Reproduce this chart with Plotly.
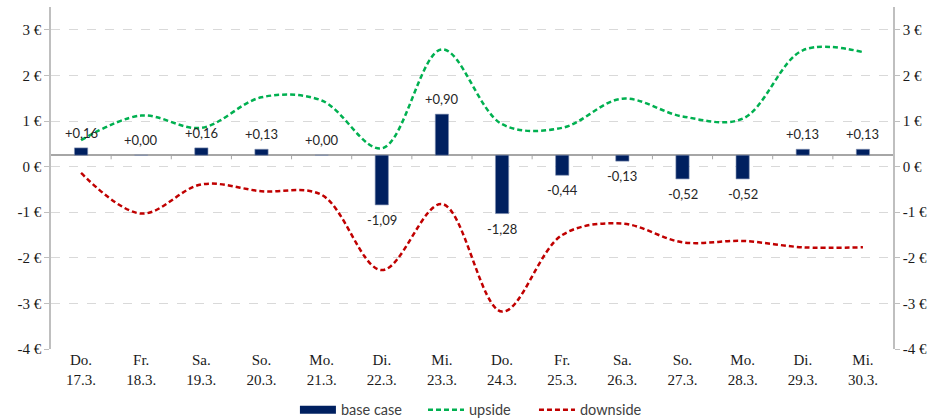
import plotly.graph_objects as go

# Category labels (weekday + date)
days = ["Do.", "Fr.", "Sa.", "So.", "Mo.", "Di.", "Mi.", "Do.", "Fr.", "Sa.", "So.", "Mo.", "Di.", "Mi."]
dates = ["17.3.", "18.3.", "19.3.", "20.3.", "21.3.", "22.3.", "23.3.", "24.3.", "25.3.", "26.3.", "27.3.", "28.3.", "29.3.", "30.3."]
categories = [f"{d}<br>{t}" for d, t in zip(days, dates)]

# Series values in EUR
base_case = [0.16, 0.00, 0.16, 0.13, 0.00, -1.09, 0.90, -1.28, -0.44, -0.13, -0.52, -0.52, 0.13, 0.13]
upside = [0.58, 1.12, 0.85, 1.52, 1.45, 0.40, 2.57, 0.93, 0.85, 1.49, 1.10, 1.05, 2.55, 2.51]
downside = [-0.14, -1.03, -0.39, -0.54, -0.62, -2.27, -0.82, -3.18, -1.50, -1.25, -1.66, -1.63, -1.77, -1.77]

# Axis ticks
tick_vals = [3, 2, 1, 0, -1, -2, -3, -4]
tick_text = [f"{v} €" for v in tick_vals]

NAVY = "#002060"
GREEN = "#00B050"
RED = "#C00000"
AXIS_GRAY = "#A6A6A6"
SERIF = "Liberation Serif"
SANS = "Lato"

fig = go.Figure()

fig.add_trace(go.Bar(
    x=categories, y=base_case, yaxis="y3", name="base case",
    marker=dict(color=NAVY, line=dict(color="#7f8fb0", width=0.6)),
    width=0.22, showlegend=False,
))
# legend entry with a wide swatch for the bars
fig.add_trace(go.Scatter(
    x=[None], y=[None], mode="lines", name="base case", legend="legend",
    line=dict(color=NAVY, width=8),
))
fig.add_trace(go.Scatter(
    x=categories, y=upside, mode="lines", name="upside", legend="legend2",
    line=dict(color=GREEN, width=2.5, dash="5px,3px", shape="spline", smoothing=1.0),
))
fig.add_trace(go.Scatter(
    x=categories, y=downside, mode="lines", name="downside", legend="legend3",
    line=dict(color=RED, width=2.5, dash="5px,3px", shape="spline", smoothing=1.0),
))

# value labels above / below the bars
annotations = []
for c, v in zip(categories, base_case):
    txt = f"{v:+.2f}".replace(".", ",").replace("-0,00", "+0,00")
    annotations.append(dict(
        x=c, y=v, xref="x", yref="y3", text=txt, showarrow=False,
        yshift=15 if v >= 0 else -15,
        font=dict(family=SANS, size=13, color="#262626"),
    ))

# small tick marks between categories on the bar baseline
shapes = []
for i in range(len(categories) - 1):
    shapes.append(dict(
        type="line", xref="x", yref="y3", x0=i + 0.5, x1=i + 0.5, y0=0, y1=-0.09,
        line=dict(color=AXIS_GRAY, width=1),
    ))

yaxis_common = dict(
    range=[-4, 3.5], tickvals=tick_vals, ticktext=tick_text,
    tickfont=dict(family=SERIF, size=15, color="#1a1a1a"),
    showline=True, linecolor="#BFBFBF", linewidth=1.5,
    ticks="outside", ticklen=5, tickcolor="#BFBFBF",
    zeroline=False, fixedrange=True,
)

legend_common = dict(
    orientation="h", y=-0.178, yanchor="middle", xanchor="left",
    font=dict(family=SANS, size=14.5, color="#404040"),
    itemwidth=36, bgcolor="rgba(0,0,0,0)",
)

fig.update_layout(
    width=934, height=418,
    margin=dict(l=51, r=41, t=7, b=69, autoexpand=False),
    plot_bgcolor="white", paper_bgcolor="white",
    separators=",.",
    xaxis=dict(
        type="category", range=[-0.5, len(categories) - 0.5],
        showgrid=False, showline=False, ticks="", zeroline=False,
        tickfont=dict(family=SERIF, size=15, color="#1a1a1a"),
    ),
    yaxis=dict(
        **yaxis_common, side="left",
        showgrid=True, gridcolor="#D9D9D9", griddash="dash", gridwidth=1,
    ),
    yaxis2=dict(**yaxis_common, side="right", overlaying="y", showgrid=False),
    yaxis3=dict(
        range=[-4.25, 3.25], overlaying="y", side="left",
        showticklabels=False, showgrid=False, showline=False, ticks="",
        zeroline=True, zerolinecolor=AXIS_GRAY, zerolinewidth=1.5,
    ),
    legend=dict(**legend_common, x=0.2897),
    legend2=dict(**legend_common, x=0.4418),
    legend3=dict(**legend_common, x=0.5736),
    annotations=annotations,
    shapes=shapes,
)

# a trace bound to the right axis keeps it drawn
fig.add_trace(go.Scatter(x=[categories[0]], y=[None], yaxis="y2", showlegend=False, hoverinfo="skip"))

fig.write_html("out.html")
